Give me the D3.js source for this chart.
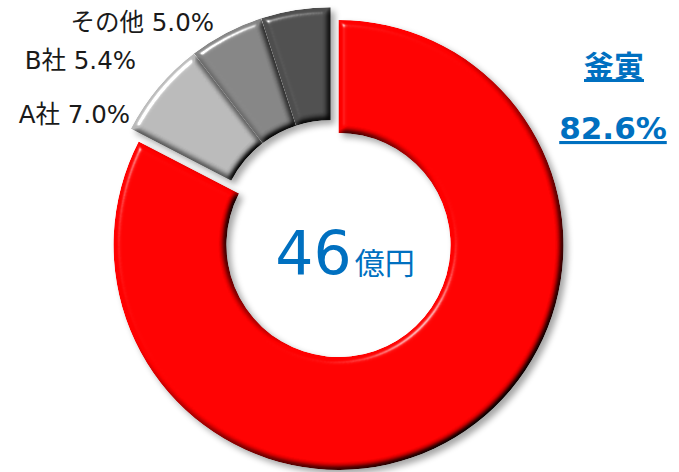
<!DOCTYPE html>
<html lang="ja">
<head>
<meta charset="UTF-8">
<script src="https://cdn.jsdelivr.net/npm/d3@7"></script>
<style>
  body { margin: 0; background: #fff; }
  svg { display: block; font-family: "DejaVu Sans", "Noto Sans CJK JP", sans-serif; }
</style>
</head>
<body>
<script>
  const w = 679;
  const h = 472;

  // data
  const companies = ["釜寅", "A社", "B社", "その他"];
  const shares = [82.6, 7.0, 5.4, 5.0];
  const sliceColors = ["#FF0000", "#B8B8B8", "#848484", "#4E4E4E"];
  const totalValue = "46";
  const totalUnit = "億円";

  const cx = 338.5, cy = 245;
  const outerR = 225, innerR = 112;
  const explode = 15;

  const svg = d3.select("body").append("svg")
      .attr("width", w)
      .attr("height", h);

  // bevel + shadow filter
  const defs = svg.append("defs");
  const f = defs.append("filter").attr("id", "bevel")
      .attr("color-interpolation-filters", "sRGB")
      .attr("x", "-10%").attr("y", "-10%").attr("width", "125%").attr("height", "125%");
  f.append("feGaussianBlur").attr("in", "SourceAlpha").attr("stdDeviation", 3).attr("result", "blur");
  f.append("feDiffuseLighting").attr("in", "blur").attr("surfaceScale", 4)
      .attr("diffuseConstant", 1.42).attr("lighting-color", "#fff").attr("result", "diff")
    .append("feDistantLight").attr("azimuth", 225).attr("elevation", 45);
  f.append("feComposite").attr("in", "SourceGraphic").attr("in2", "diff")
      .attr("operator", "arithmetic").attr("k1", 1).attr("k2", 0).attr("k3", 0).attr("k4", 0).attr("result", "shaded");
  f.append("feSpecularLighting").attr("in", "blur").attr("surfaceScale", 5)
      .attr("specularConstant", 0.7).attr("specularExponent", 40).attr("lighting-color", "#fff").attr("result", "spec")
    .append("feDistantLight").attr("azimuth", 225).attr("elevation", 40);
  f.append("feComposite").attr("in", "spec").attr("in2", "SourceAlpha").attr("operator", "in").attr("result", "specIn");
  f.append("feComposite").attr("in", "shaded").attr("in2", "specIn")
      .attr("operator", "arithmetic").attr("k1", 0).attr("k2", 1).attr("k3", 1).attr("k4", 0).attr("result", "lit");
  f.append("feComposite").attr("in", "lit").attr("in2", "SourceAlpha").attr("operator", "in").attr("result", "litIn");
  f.append("feGaussianBlur").attr("in", "SourceAlpha").attr("stdDeviation", 3).attr("result", "sb");
  f.append("feOffset").attr("in", "sb").attr("dx", 4).attr("dy", 4).attr("result", "so");
  f.append("feComponentTransfer").attr("in", "so").attr("result", "shadow")
    .append("feFuncA").attr("type", "linear").attr("slope", 0.35);
  const m = f.append("feMerge");
  m.append("feMergeNode").attr("in", "shadow");
  m.append("feMergeNode").attr("in", "litIn");

  const pie = d3.pie().sort(null).value(d => d);
  const arcs = pie(shares);
  const arc = d3.arc().innerRadius(innerR).outerRadius(outerR);

  // gray slices are pulled out together along their common bisector
  const grayStart = arcs[1].startAngle;
  const grayEnd = arcs[arcs.length - 1].endAngle;
  const grayMid = (grayStart + grayEnd) / 2;
  const gdx = Math.sin(grayMid) * explode;
  const gdy = -Math.cos(grayMid) * explode;

  const g = svg.append("g").attr("transform", `translate(${cx},${cy})`);

  g.selectAll("path.slice")
    .data(arcs)
    .enter()
    .append("path")
      .attr("class", "slice")
      .attr("d", arc)
      .attr("fill", (d, i) => sliceColors[i])
      .attr("filter", "url(#bevel)")
      .attr("transform", (d, i) => i === 0 ? null : `translate(${gdx},${gdy})`);

  // labels for the small slices
  const labelPos = { "A社": [130, 123], "B社": [136, 69], "その他": [214, 31] };
  svg.selectAll("text.lbl")
    .data(arcs.slice(1))
    .enter()
    .append("text")
      .attr("class", "lbl")
      .attr("x", (d, i) => labelPos[companies[i + 1]][0])
      .attr("y", (d, i) => labelPos[companies[i + 1]][1])
      .attr("text-anchor", "end")
      .attr("font-size", 24.5)
      .attr("fill", "#1a1a1a")
      .text((d, i) => `${companies[i + 1]} ${d.data.toFixed(1)}%`);

  // main slice label
  const blue = "#0070C0";
  svg.append("text")
      .attr("x", 614).attr("y", 77)
      .attr("text-anchor", "middle")
      .attr("font-size", 30).attr("font-weight", "bold")
      .attr("fill", blue)
      .attr("text-decoration", "underline")
      .text(companies[0]);
  svg.append("text")
      .attr("x", 613).attr("y", 139)
      .attr("text-anchor", "middle")
      .attr("font-size", 31).attr("font-weight", "bold")
      .attr("fill", blue)
      .attr("text-decoration", "underline")
      .text(`${shares[0].toFixed(1)}%`);

  // center total
  const center = svg.append("text")
      .attr("x", 345).attr("y", 274)
      .attr("text-anchor", "middle")
      .attr("fill", blue);
  center.append("tspan").attr("font-size", 60).text(totalValue);
  center.append("tspan").attr("font-size", 30).attr("dx", 3).text(totalUnit);
</script>
</body>
</html>
